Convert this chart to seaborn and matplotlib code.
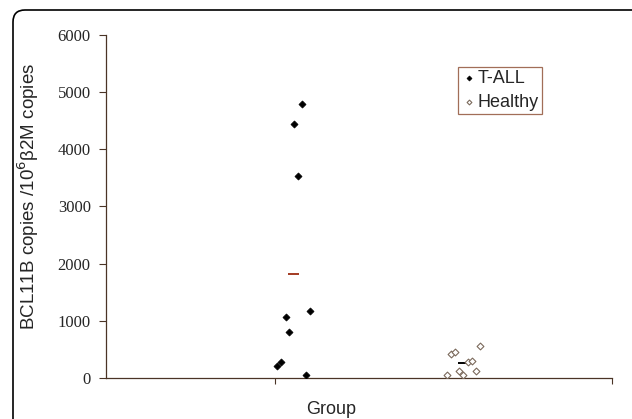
import matplotlib
matplotlib.use("Agg")
import matplotlib.pyplot as plt
from matplotlib.patches import FancyBboxPatch
import seaborn as sns
import numpy as np

# values
groups = ["T-ALL", "Healthy"]
tall_values = [4800, 4450, 3530, 1170, 1070, 805, 280, 215, 52]
tall_jitter = [0.164, 0.114, 0.139, 0.212, 0.065, 0.087, 0.036, 0.012, 0.188]
healthy_values = [565, 414, 449, 280, 292, 58, 122, 52, 117]
healthy_jitter = [0.219, 0.046, 0.071, 0.148, 0.170, 0.020, 0.091, 0.119, 0.194]
y_ticks = [0, 1000, 2000, 3000, 4000, 5000, 6000]

spine_col = "#4a3426"

sns.set_style("ticks")
plt.rcParams["font.family"] = ["Liberation Sans", "DejaVu Sans"]

fig = plt.figure(figsize=(6.32, 4.19), dpi=100)
ax = fig.add_axes([0.1677, 0.0979, 0.968 - 0.1677, 0.9165 - 0.0979])

tall_x = 1 + np.array(tall_jitter)
healthy_x = 2 + np.array(healthy_jitter)

sns.scatterplot(x=tall_x, y=tall_values, marker="D", s=13, color="black",
                edgecolor="black", linewidth=0.5, label=groups[0], ax=ax, zorder=3)
sns.scatterplot(x=healthy_x, y=healthy_values, marker="D", s=12, color="white",
                edgecolor="#7b6a5c", linewidth=0.8, label=groups[1], ax=ax, zorder=3)

# mean bars
ax.hlines(np.mean(tall_values), 1.08, 1.145, color="#a33a22", linewidth=1.4, zorder=2)
ax.hlines(np.mean(healthy_values), 2.088, 2.15, color="black", linewidth=1.4, zorder=2)

ax.set_xlim(0, 3)
ax.set_ylim(0, 6000)
ax.set_yticks(y_ticks)
ax.set_yticklabels([str(t) for t in y_ticks], family="Liberation Serif", fontsize=12)
ax.set_xticks([1, 3])
ax.set_xticklabels([])
ax.tick_params(axis="y", length=5, width=0.8, color=spine_col, pad=6)
ax.tick_params(axis="x", length=4, width=0.8, color=spine_col)

sns.despine(ax=ax)
for side in ["left", "bottom"]:
    ax.spines[side].set_color(spine_col)
    ax.spines[side].set_linewidth(0.9)

ax.set_ylabel("BCL11B copies /10$^6$β2M copies", fontsize=13.5)
ax.yaxis.set_label_coords(-0.128, 0.528)
ax.set_xlabel("Group", fontsize=13)
ax.xaxis.set_label_coords(0.445, -0.068)

leg = ax.legend(loc="upper left", bbox_to_anchor=(0.696, 0.907), borderaxespad=0,
                fontsize=13, frameon=True, fancybox=False, edgecolor="#8a4a2e",
                handletextpad=0.05, borderpad=0.15, labelspacing=0.4,
                handlelength=0.9, markerscale=0.7)
leg.get_frame().set_linewidth(0.9)

# rounded outer frame of the figure
frame = FancyBboxPatch((0.13, -0.5), 7.0, 4.09 + 0.5,
                       boxstyle="round,pad=0,rounding_size=0.12",
                       transform=fig.dpi_scale_trans, facecolor="none",
                       edgecolor="black", linewidth=1.2)
fig.patches.append(frame)

fig.savefig("out.png", dpi=100)
